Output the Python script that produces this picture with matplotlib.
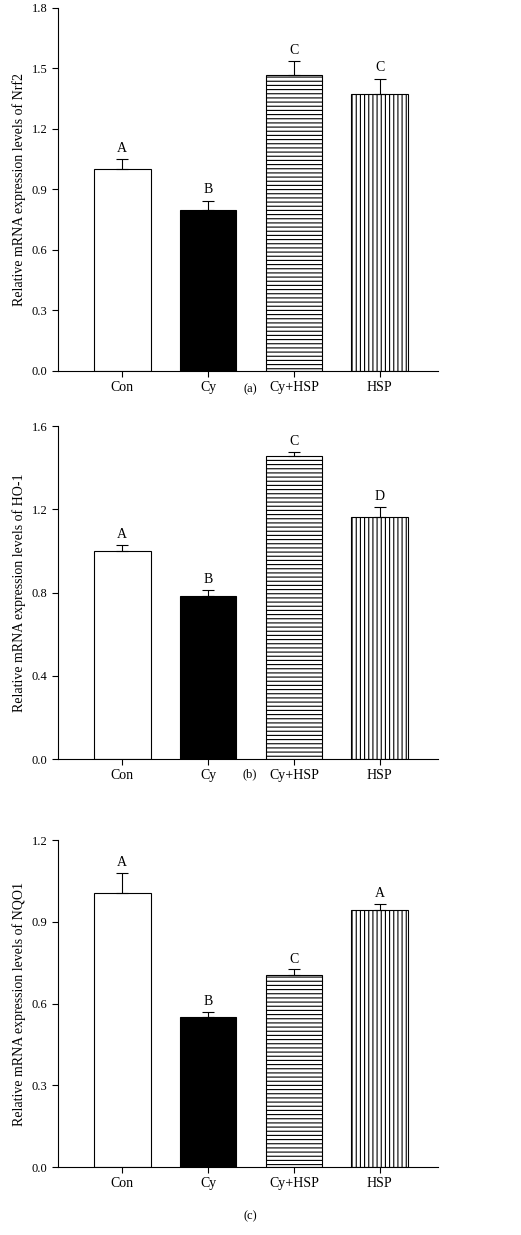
import matplotlib
matplotlib.use("Agg")
import matplotlib.pyplot as plt

plt.rcParams['font.family'] = ['Liberation Serif', 'DejaVu Serif']
plt.rcParams['hatch.linewidth'] = 0.8

groups = ["Con", "Cy", "Cy+HSP", "HSP"]
nrf2 = [1.0, 0.80, 1.465, 1.375]
nrf2_err = [0.05, 0.045, 0.07, 0.075]
nrf2_sig = ["A", "B", "C", "C"]
ho1 = [1.0, 0.785, 1.455, 1.165]
ho1_err = [0.03, 0.025, 0.02, 0.045]
ho1_sig = ["A", "B", "C", "D"]
nqo1 = [1.005, 0.55, 0.705, 0.945]
nqo1_err = [0.075, 0.02, 0.02, 0.02]
nqo1_sig = ["A", "B", "C", "A"]

panels = [
    (nrf2, nrf2_err, nrf2_sig, "Nrf2", [0, 0.3, 0.6, 0.9, 1.2, 1.5, 1.8], "(a)", [0.111, 0.6996, 0.73, 0.294], 0.680),
    (ho1, ho1_err, ho1_sig, "HO-1", [0, 0.4, 0.8, 1.2, 1.6], "(b)", [0.111, 0.3854, 0.73, 0.2696], 0.368),
    (nqo1, nqo1_err, nqo1_sig, "NQO1", [0, 0.3, 0.6, 0.9, 1.2], "(c)", [0.111, 0.055, 0.73, 0.2648], 0.010),
]
faces = ["white", "black", "white", "white"]
hatches = [None, None, "----", "||||"]

fig = plt.figure(figsize=(5.21, 12.35), dpi=100)
for vals, errs, sig, name, ticks, lab, pos, laby in panels:
    ax = fig.add_axes(pos)
    x = range(len(groups))
    for i in x:
        ax.bar(i, vals[i], width=0.66, color=faces[i], edgecolor="black",
               hatch=hatches[i], linewidth=0.8, zorder=2)
        ax.errorbar(i, vals[i], yerr=[[0], [errs[i]]], color="black",
                    capsize=4, elinewidth=0.8, capthick=0.8, zorder=3)
        ax.text(i, vals[i] + errs[i] + ticks[-1] * 0.012, sig[i],
                ha="center", va="bottom", fontsize=10)
    ax.set_xlim(-0.75, 3.68)
    ax.set_ylim(0, ticks[-1])
    ax.set_yticks(ticks)
    ax.set_yticklabels([f"{t:.1f}" for t in ticks], fontsize=9)
    ax.set_xticks(list(x))
    ax.set_xticklabels(groups, fontsize=10)
    ax.spines['top'].set_visible(False)
    ax.spines['right'].set_visible(False)
    ax.tick_params(direction="out", length=4, width=0.8)
    ax.set_ylabel(f"Relative mRNA expression levels of {name}", fontsize=10)
    fig.text(0.48, laby, lab, ha="center", va="bottom", fontsize=9)

fig.savefig("out.png", dpi=100)
